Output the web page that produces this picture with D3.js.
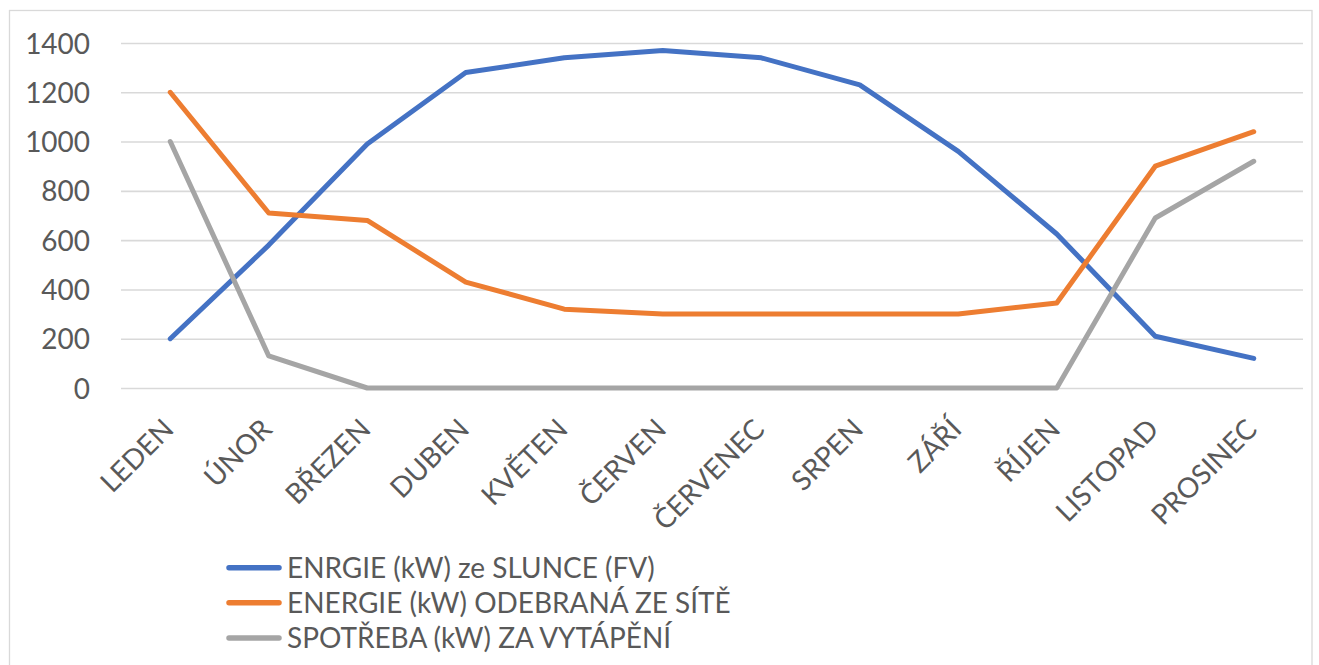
<!DOCTYPE html>
<html>
<head>
<meta charset="utf-8">
<script src="https://cdn.jsdelivr.net/npm/d3@7"></script>
<style>
  html, body { margin: 0; padding: 0; background: #fff; }
  svg { display: block; }
  text { font-family: Lato, "Open Sans", sans-serif; fill: #595959; }
</style>
</head>
<body>
<svg id="chart" width="1319" height="665"></svg>
<script>
const categories = ["LEDEN", "ÚNOR", "BŘEZEN", "DUBEN", "KVĚTEN", "ČERVEN", "ČERVENEC", "SRPEN", "ZÁŘÍ", "ŘÍJEN", "LISTOPAD", "PROSINEC"];
const seriesNames = ["ENRGIE (kW) ze SLUNCE (FV)", "ENERGIE (kW) ODEBRANÁ ZE SÍTĚ", "SPOTŘEBA (kW) ZA VYTÁPĚNÍ"];
const solar   = [200, 580, 990, 1280, 1340, 1370, 1340, 1230, 960, 625, 210, 120];
const grid    = [1200, 710, 680, 430, 320, 300, 300, 300, 300, 345, 900, 1040];
const heating = [1000, 130, 0, 0, 0, 0, 0, 0, 0, 0, 690, 920];
const yTicks  = [0, 200, 400, 600, 800, 1000, 1200, 1400];
const colors  = ["#4472C4", "#ED7D31", "#A5A5A5"];

const svg = d3.select("#chart");
const W = 1319, H = 665;
const plot = { left: 121, right: 1303, top: 43, bottom: 388 };

// outer chart border
svg.append("rect")
  .attr("x", 9.5).attr("y", 10.5)
  .attr("width", 1312 - 9.5).attr("height", 720)
  .attr("fill", "none").attr("stroke", "#D9D9D9").attr("stroke-width", 1.3);

const x = d3.scaleBand().domain(categories).range([plot.left, plot.right]).padding(0);
const y = d3.scaleLinear().domain([0, 1400]).range([plot.bottom, plot.top]);
const cx = d => x(d) + x.bandwidth() / 2;

// font size calibrated so legend text width matches the reference
const probe = svg.append("text").style("font-size", "30px").text(seriesNames[0]);
const fs = 30 * 368 / probe.node().getComputedTextLength();
probe.remove();
const capH = fs * 0.72;

// gridlines
const yAxis = d3.axisLeft(y).tickValues(yTicks).tickSize(-(plot.right - plot.left)).tickFormat(d3.format("d")).tickPadding(31);
const gy = svg.append("g").attr("transform", `translate(${plot.left},0)`).call(yAxis);
gy.select(".domain").remove();
gy.selectAll(".tick line").attr("stroke", "#D9D9D9").attr("stroke-width", 1.6);
gy.selectAll(".tick text")
  .attr("fill", "#595959")
  .style("font-size", fs + "px")
  .style("font-family", "Lato, 'Open Sans', sans-serif")
  .attr("dy", null)
  .attr("y", capH / 2);

// x axis labels (rotated)
const xAxis = d3.axisBottom(x).tickSize(0).tickPadding(0);
const gx = svg.append("g").attr("transform", `translate(0,${plot.bottom})`).call(xAxis);
gx.select(".domain").remove();
gx.selectAll(".tick text")
  .attr("fill", "#595959")
  .style("font-size", fs + "px")
  .style("font-family", "Lato, 'Open Sans', sans-serif")
  .attr("text-anchor", "end")
  .attr("dy", null)
  .attr("y", null)
  .attr("transform", "translate(5,43) rotate(-45)");

// lines
const seriesData = [solar, grid, heating];
const line = d3.line().x((d, i) => cx(categories[i])).y(d => y(d));
seriesData.forEach((s, k) => {
  svg.append("path")
    .datum(s)
    .attr("d", line)
    .attr("fill", "none")
    .attr("stroke", colors[k])
    .attr("stroke-width", 5)
    .attr("stroke-linejoin", "round")
    .attr("stroke-linecap", "round");
});

// legend
const legY = [567.7, 602.7, 638];
const lg = svg.append("g");
seriesNames.forEach((n, k) => {
  lg.append("line")
    .attr("x1", 229).attr("x2", 279)
    .attr("y1", legY[k]).attr("y2", legY[k])
    .attr("stroke", colors[k]).attr("stroke-width", 5.5).attr("stroke-linecap", "round");
  lg.append("text")
    .attr("x", 287).attr("y", legY[k] + capH / 2)
    .style("font-size", fs + "px")
    .text(n);
});
</script>
</body>
</html>
